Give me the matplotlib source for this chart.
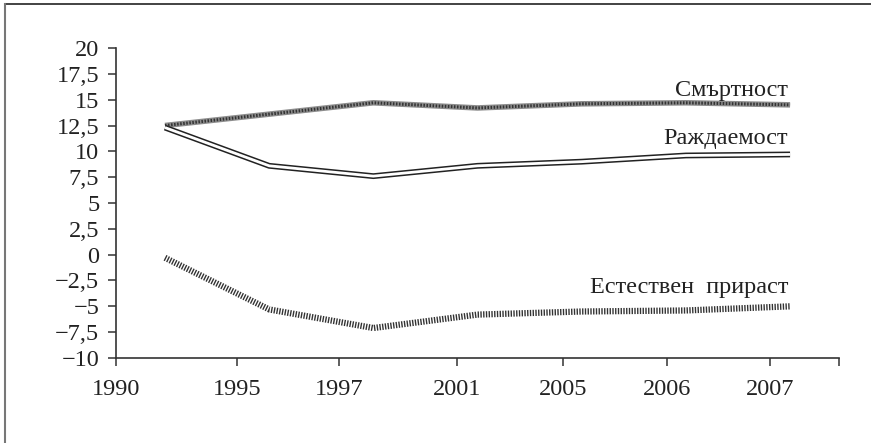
import matplotlib
matplotlib.use("Agg")
import matplotlib.pyplot as plt
from matplotlib.lines import Line2D

plt.rcParams["font.family"] = ["Liberation Serif", "DejaVu Serif"]

# data (per mille)
years = ["1990", "1995", "1997", "2001", "2005", "2006", "2007"]
mortality = [12.5, 13.6, 14.7, 14.2, 14.6, 14.7, 14.5]
births = [12.3, 8.6, 7.6, 8.6, 9.0, 9.6, 9.7]
natural = [-0.3, -5.3, -7.1, -5.8, -5.5, -5.4, -5.0]

y_ticks = [20, 17.5, 15, 12.5, 10, 7.5, 5, 2.5, 0, -2.5, -5, -7.5, -10]

x = list(range(len(years)))
# tick marks do not sit on the data points in the original
x_tick_pos = [-0.470, 0.691, 1.670, 2.803, 3.821, 4.819, 5.808, 6.470]

fs = 17.5

fig = plt.figure(figsize=(8.71, 4.43), dpi=100)
ax = fig.add_axes([0.1332, 0.1919, 0.8301, 0.6997])

# mortality: textured grey band
ax.plot(x, mortality, color="#8c8c8c", lw=4, solid_joinstyle="round",
        solid_capstyle="butt", zorder=3)
ax.plot(x, mortality, color="#333333", lw=2.2, linestyle=(0, (0.5, 0.5)),
        dash_capstyle="butt", zorder=4)

# births: double line
ax.plot(x, births, color="#222222", lw=4.2, solid_joinstyle="miter",
        solid_capstyle="butt", zorder=3)
ax.plot(x, births, color="white", lw=2.0, solid_joinstyle="miter",
        solid_capstyle="butt", zorder=4)

# natural increase: striped band
ax.plot(x, natural, color="#333333", lw=4.5, linestyle=(0, (0.22, 0.22)),
        dash_capstyle="butt", zorder=3)

ax.text(5.98, 15.4, "Смъртност", ha="right", va="baseline", fontsize=fs, color="#222222")
ax.text(5.98, 10.7, "Раждаемост", ha="right", va="baseline", fontsize=fs, color="#222222")
ax.text(5.98, -3.7, "Естествен  прираст", ha="right", va="baseline", fontsize=fs, color="#222222")

ax.set_xlim(x_tick_pos[0], x_tick_pos[-1])
ax.set_ylim(-10, 20)
ax.set_yticks(y_ticks)
ax.set_yticklabels([f"{v:g}".replace(".", ",").replace("-", "\u2212") for v in y_ticks])
ax.set_xticks(x_tick_pos)
ax.set_xticklabels(years + [""])

for side in ["top", "right"]:
    ax.spines[side].set_visible(False)
for side in ["left", "bottom"]:
    ax.spines[side].set_color("#333333")
    ax.spines[side].set_linewidth(1.2)
ax.tick_params(direction="out", length=6, width=1.1, color="#333333",
               labelsize=fs, labelcolor="#222222")
ax.tick_params(axis="y", pad=6)
ax.tick_params(axis="x", pad=9)

# outer frame: top and left only
fig.add_artist(Line2D([5 / 871, 1], [1 - 4 / 443, 1 - 4 / 443], color="#222222", lw=1.2,
                      transform=fig.transFigure))
fig.add_artist(Line2D([5 / 871, 5 / 871], [0, 1 - 4 / 443], color="#777777", lw=1.5,
                      transform=fig.transFigure))

fig.savefig("out.png", dpi=100)
